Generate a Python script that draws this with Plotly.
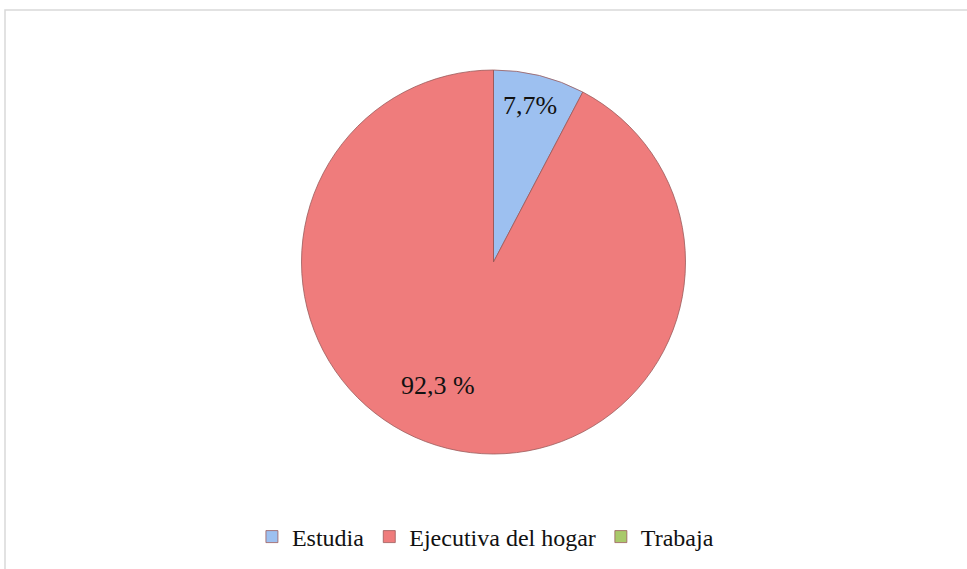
import plotly.graph_objects as go

categories = ["Estudia", "Ejecutiva del hogar", "Trabaja"]
values = [7.7, 92.3, 0.0]
label_texts = ["7,7%", "92,3 %", ""]
colors = ["#9DC0F0", "#EF7C7C", "#A9C96A"]

W, H = 967, 569
cx, cy, r = 493.5, 262, 192

fig = go.Figure()
fig.add_trace(go.Pie(
    labels=categories,
    values=values,
    sort=False,
    direction="clockwise",
    rotation=0,
    marker=dict(colors=colors, line=dict(color="#9A5A5A", width=0.8)),
    textinfo="none",
    hoverinfo="label+percent",
    domain=dict(x=[(cx - r) / W, (cx + r) / W], y=[1 - (cy + r) / H, 1 - (cy - r) / H]),
    showlegend=True,
))

# labels placed in paper coordinates
label_pos = [(530, 105), (438, 385)]
for (px, py), t in zip(label_pos, label_texts[:2]):
    fig.add_annotation(x=px / W, y=1 - py / H, xref="paper", yref="paper",
                       xanchor="center", yanchor="middle",
                       text=t, showarrow=False,
                       font=dict(family="Liberation Serif", size=26, color="#111111"))

fig.add_shape(type="rect", xref="paper", yref="paper",
              x0=5 / W, y0=-0.05, x1=1.05, y1=1 - 10 / H,
              line=dict(color="#D9D9D9", width=1.5))

fig.update_layout(
    width=W, height=H,
    margin=dict(l=0, r=0, t=0, b=0),
    paper_bgcolor="white",
    plot_bgcolor="white",
    font=dict(family="Liberation Serif", size=24, color="#111111"),
    legend=dict(orientation="h", x=0.502, xanchor="center", y=1 - 537 / H, yanchor="middle",
                font=dict(family="Liberation Serif", size=24, color="#111111"),
                itemwidth=30, tracegroupgap=0),
)

fig.write_html("out.html", config={"displayModeBar": False})

with open("out.html", "r", encoding="utf-8") as f:
    html = f.read()
html = html.replace("<body>", "<body style=\"margin:0;padding:0;overflow:hidden\">", 1)
with open("out.html", "w", encoding="utf-8") as f:
    f.write(html)
